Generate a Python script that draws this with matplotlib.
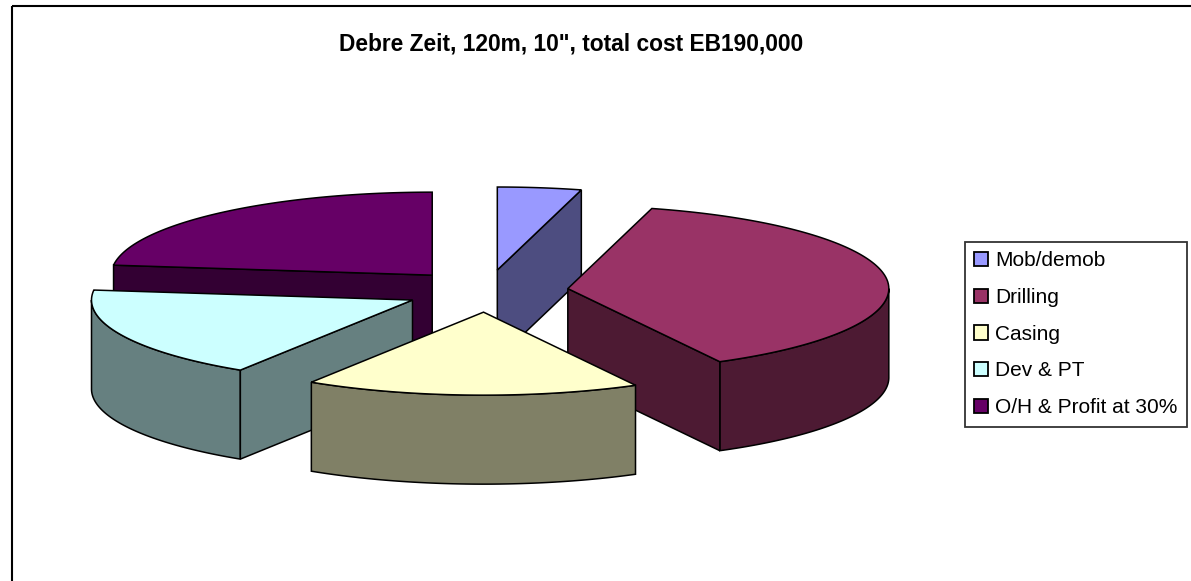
import numpy as np
import matplotlib
matplotlib.use("Agg")
import matplotlib.pyplot as plt
from matplotlib.patches import Polygon, Rectangle, Patch

plt.rcParams['font.family'] = ['Liberation Sans', 'DejaVu Sans']

# cost breakdown (EB)
labels = ['Mob/demob', 'Drilling', 'Casing', 'Dev & PT', 'O/H & Profit at 30%']
values = [8000, 72000, 32000, 34000, 43800]
colors = ['#9999FF', '#993366', '#FFFFCC', '#CCFFFF', '#660066']
title = 'Debre Zeit, 120m, 10", total cost EB190,000'

W, H = 1191, 581
fig = plt.figure(figsize=(W / 100, H / 100), dpi=100)
ax = fig.add_axes([0, 0, 1, 1])
ax.set_xlim(0, W)
ax.set_ylim(H, 0)
ax.axis('off')

# 3d pie projection (pixels)
cx, cy = 486.5, 291.0
a, b = 321.0, 83.0
depth = 89.0
explode = 0.255
lw = 1.1


def pt(c, t, dz=0.0):
    t = np.radians(t)
    return np.column_stack([c[0] + a * np.sin(t), c[1] - b * np.cos(t) + dz])


def shade(hexcol, f=0.5):
    rgb = np.array(matplotlib.colors.to_rgb(hexcol))
    return tuple(rgb * f)


vals = np.array(values, dtype=float)
angles = np.concatenate([[0], np.cumsum(vals) / vals.sum() * 360])
mids = (angles[:-1] + angles[1:]) / 2

# back slices first
order = np.argsort(-np.cos(np.radians(mids)))
for i in order:
    t1, t2 = angles[i], angles[i + 1]
    m = np.radians(mids[i])
    apex = np.array([cx + explode * a * np.sin(m), cy - explode * b * np.cos(m)])
    top_c = colors[i]
    side_c = shade(colors[i])
    faces = []
    # outer curved side, front half only
    lo, hi = max(t1, 90), min(t2, 270)
    if hi > lo:
        ts = np.linspace(lo, hi, 80)
        faces.append(np.vstack([pt(apex, ts), pt(apex, ts[::-1], depth)]))
    # radial faces
    if np.sin(np.radians(t1)) < -1e-6:
        p = pt(apex, [t1])[0]
        faces.append(np.array([apex, p, p + [0, depth], apex + [0, depth]]))
    if np.sin(np.radians(t2)) > 1e-6:
        p = pt(apex, [t2])[0]
        faces.append(np.array([apex, p, p + [0, depth], apex + [0, depth]]))
    for f in faces:
        ax.add_patch(Polygon(f, closed=True, facecolor=side_c, edgecolor='black',
                             linewidth=lw, joinstyle='miter'))
    ts = np.linspace(t1, t2, 120)
    top = np.vstack([apex, pt(apex, ts)])
    ax.add_patch(Polygon(top, closed=True, facecolor=top_c, edgecolor='black',
                         linewidth=lw, joinstyle='miter'))

# chart border
ax.add_patch(Rectangle((12, 6), 1300, 700, fill=False, edgecolor='black', linewidth=1.5))

ax.text(571.5, 51, title, ha='center', va='baseline', fontsize=16.4, fontweight='bold')

handles = [Patch(facecolor=c, edgecolor='black', linewidth=1.3) for c in colors]
leg = ax.legend(handles, labels, loc='upper left',
                bbox_to_anchor=(965 / W, 1 - 242 / H), bbox_transform=fig.transFigure,
                fontsize=15, frameon=True, fancybox=False, borderaxespad=0,
                borderpad=0.45, handlelength=0.67, handleheight=0.67,
                handletextpad=0.34, labelspacing=0.85)
leg.get_frame().set_edgecolor('black')
leg.get_frame().set_linewidth(1.3)

fig.savefig('out.png', dpi=100)
